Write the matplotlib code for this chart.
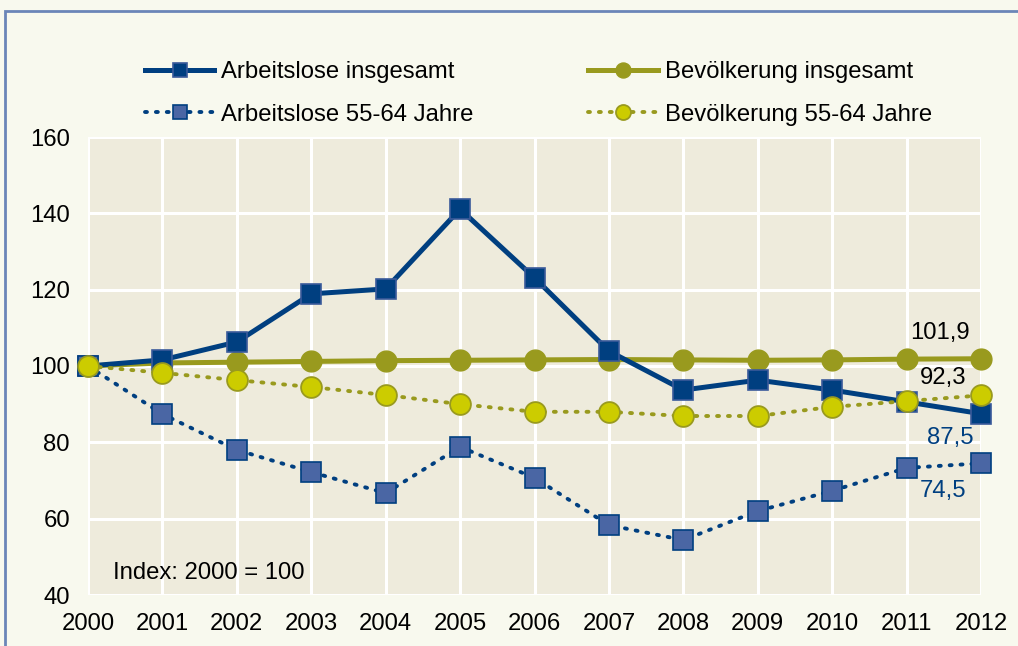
import matplotlib.pyplot as plt
from matplotlib.patches import Rectangle
import numpy as np

plt.rcParams['font.family'] = ['Liberation Sans', 'DejaVu Sans']

years = list(range(2000, 2013))
arbeitslose_ges = [100, 101.6, 106.3, 118.9, 120.2, 141.1, 123.1, 103.9, 93.7, 96.3, 93.7, 90.6, 87.5]
bevoelkerung_ges = [100, 100.8, 101.0, 101.2, 101.4, 101.5, 101.6, 101.7, 101.6, 101.5, 101.6, 101.8, 101.9]
arbeitslose_55 = [100, 87.4, 78.0, 72.2, 66.7, 78.8, 70.7, 58.3, 54.4, 62.0, 67.3, 73.3, 74.5]
bevoelkerung_55 = [100, 98.2, 96.3, 94.5, 92.4, 90.0, 88.0, 88.0, 86.9, 86.9, 89.3, 90.8, 92.3]
labels = ["Arbeitslose insgesamt", "Arbeitslose 55-64 Jahre",
          "Bevölkerung insgesamt", "Bevölkerung 55-64 Jahre"]

dark_blue = '#003f80'
mid_blue = '#4a66a4'
olive = '#999a1e'
yellow = '#cccc00'
fs = 17.2

fig = plt.figure(figsize=(10.18, 6.46), dpi=100, facecolor='#f8f9ee')
ax = fig.add_axes([88/1018, 1-595/646, (981-88)/1018, (595-137)/646])
ax.set_facecolor('#eeebdc')

# outer frame
fig.patches.append(Rectangle((5/1018, -0.05), 1.2, 1-11/646+0.05, transform=fig.transFigure,
                             fill=False, edgecolor='#6b86b8', linewidth=2))

l1, = ax.plot(years, arbeitslose_ges, color=dark_blue, lw=3.6, marker='s', ms=14,
              mfc=dark_blue, mec='#3a5a9a', mew=1.2, zorder=4)
l2, = ax.plot(years, bevoelkerung_ges, color=olive, lw=3.6, marker='o', ms=15,
              mfc=olive, mec=olive, zorder=3)
l3, = ax.plot(years, arbeitslose_55, color=dark_blue, lw=2.8, ls=(0, (0.5, 2.3)),
              dash_capstyle='round', marker='s', ms=14, mfc=mid_blue, mec=dark_blue, mew=1.2, zorder=4)
l4, = ax.plot(years, bevoelkerung_55, color=olive, lw=2.8, ls=(0, (0.5, 2.3)),
              dash_capstyle='round', marker='o', ms=15, mfc=yellow, mec=olive, mew=1.3, zorder=5)

ax.set_xlim(2000, 2012)
ax.set_ylim(40, 160)
ax.set_xticks(years)
ax.set_yticks(range(40, 161, 20))
ax.grid(True, color='white', lw=2.2)
ax.set_axisbelow(True)
for s in ax.spines.values():
    s.set_visible(False)
ax.tick_params(length=0, labelsize=fs)
ax.tick_params(axis='x', pad=13)
ax.tick_params(axis='y', pad=13)
for p in [l1, l2, l3, l4]:
    p.set_clip_on(False)

ax.text(2011.85, bevoelkerung_ges[-1] + 6.8, "101,9", ha='right', va='center', fontsize=fs, color='black')
ax.text(2011.8, bevoelkerung_55[-1] + 4.5, "92,3", ha='right', va='center', fontsize=fs, color='black')
ax.text(2011.9, arbeitslose_ges[-1] - 6.3, "87,5", ha='right', va='center', fontsize=fs, color=dark_blue)
ax.text(2011.8, arbeitslose_55[-1] - 7.3, "74,5", ha='right', va='center', fontsize=fs, color=dark_blue)
ax.text(2000.34, 45.8, "Index: 2000 = 100", ha='left', va='center', fontsize=fs, color='black')

fig.legend([l1, l3, l2, l4], labels, ncol=2, loc='center', bbox_to_anchor=(0.529, 1-93.5/646),
           frameon=False, fontsize=fs, handlelength=2.9, columnspacing=4.8, labelspacing=0.85,
           handletextpad=0.3, markerscale=0.72)

fig.savefig('out.png', dpi=100, facecolor=fig.get_facecolor())
